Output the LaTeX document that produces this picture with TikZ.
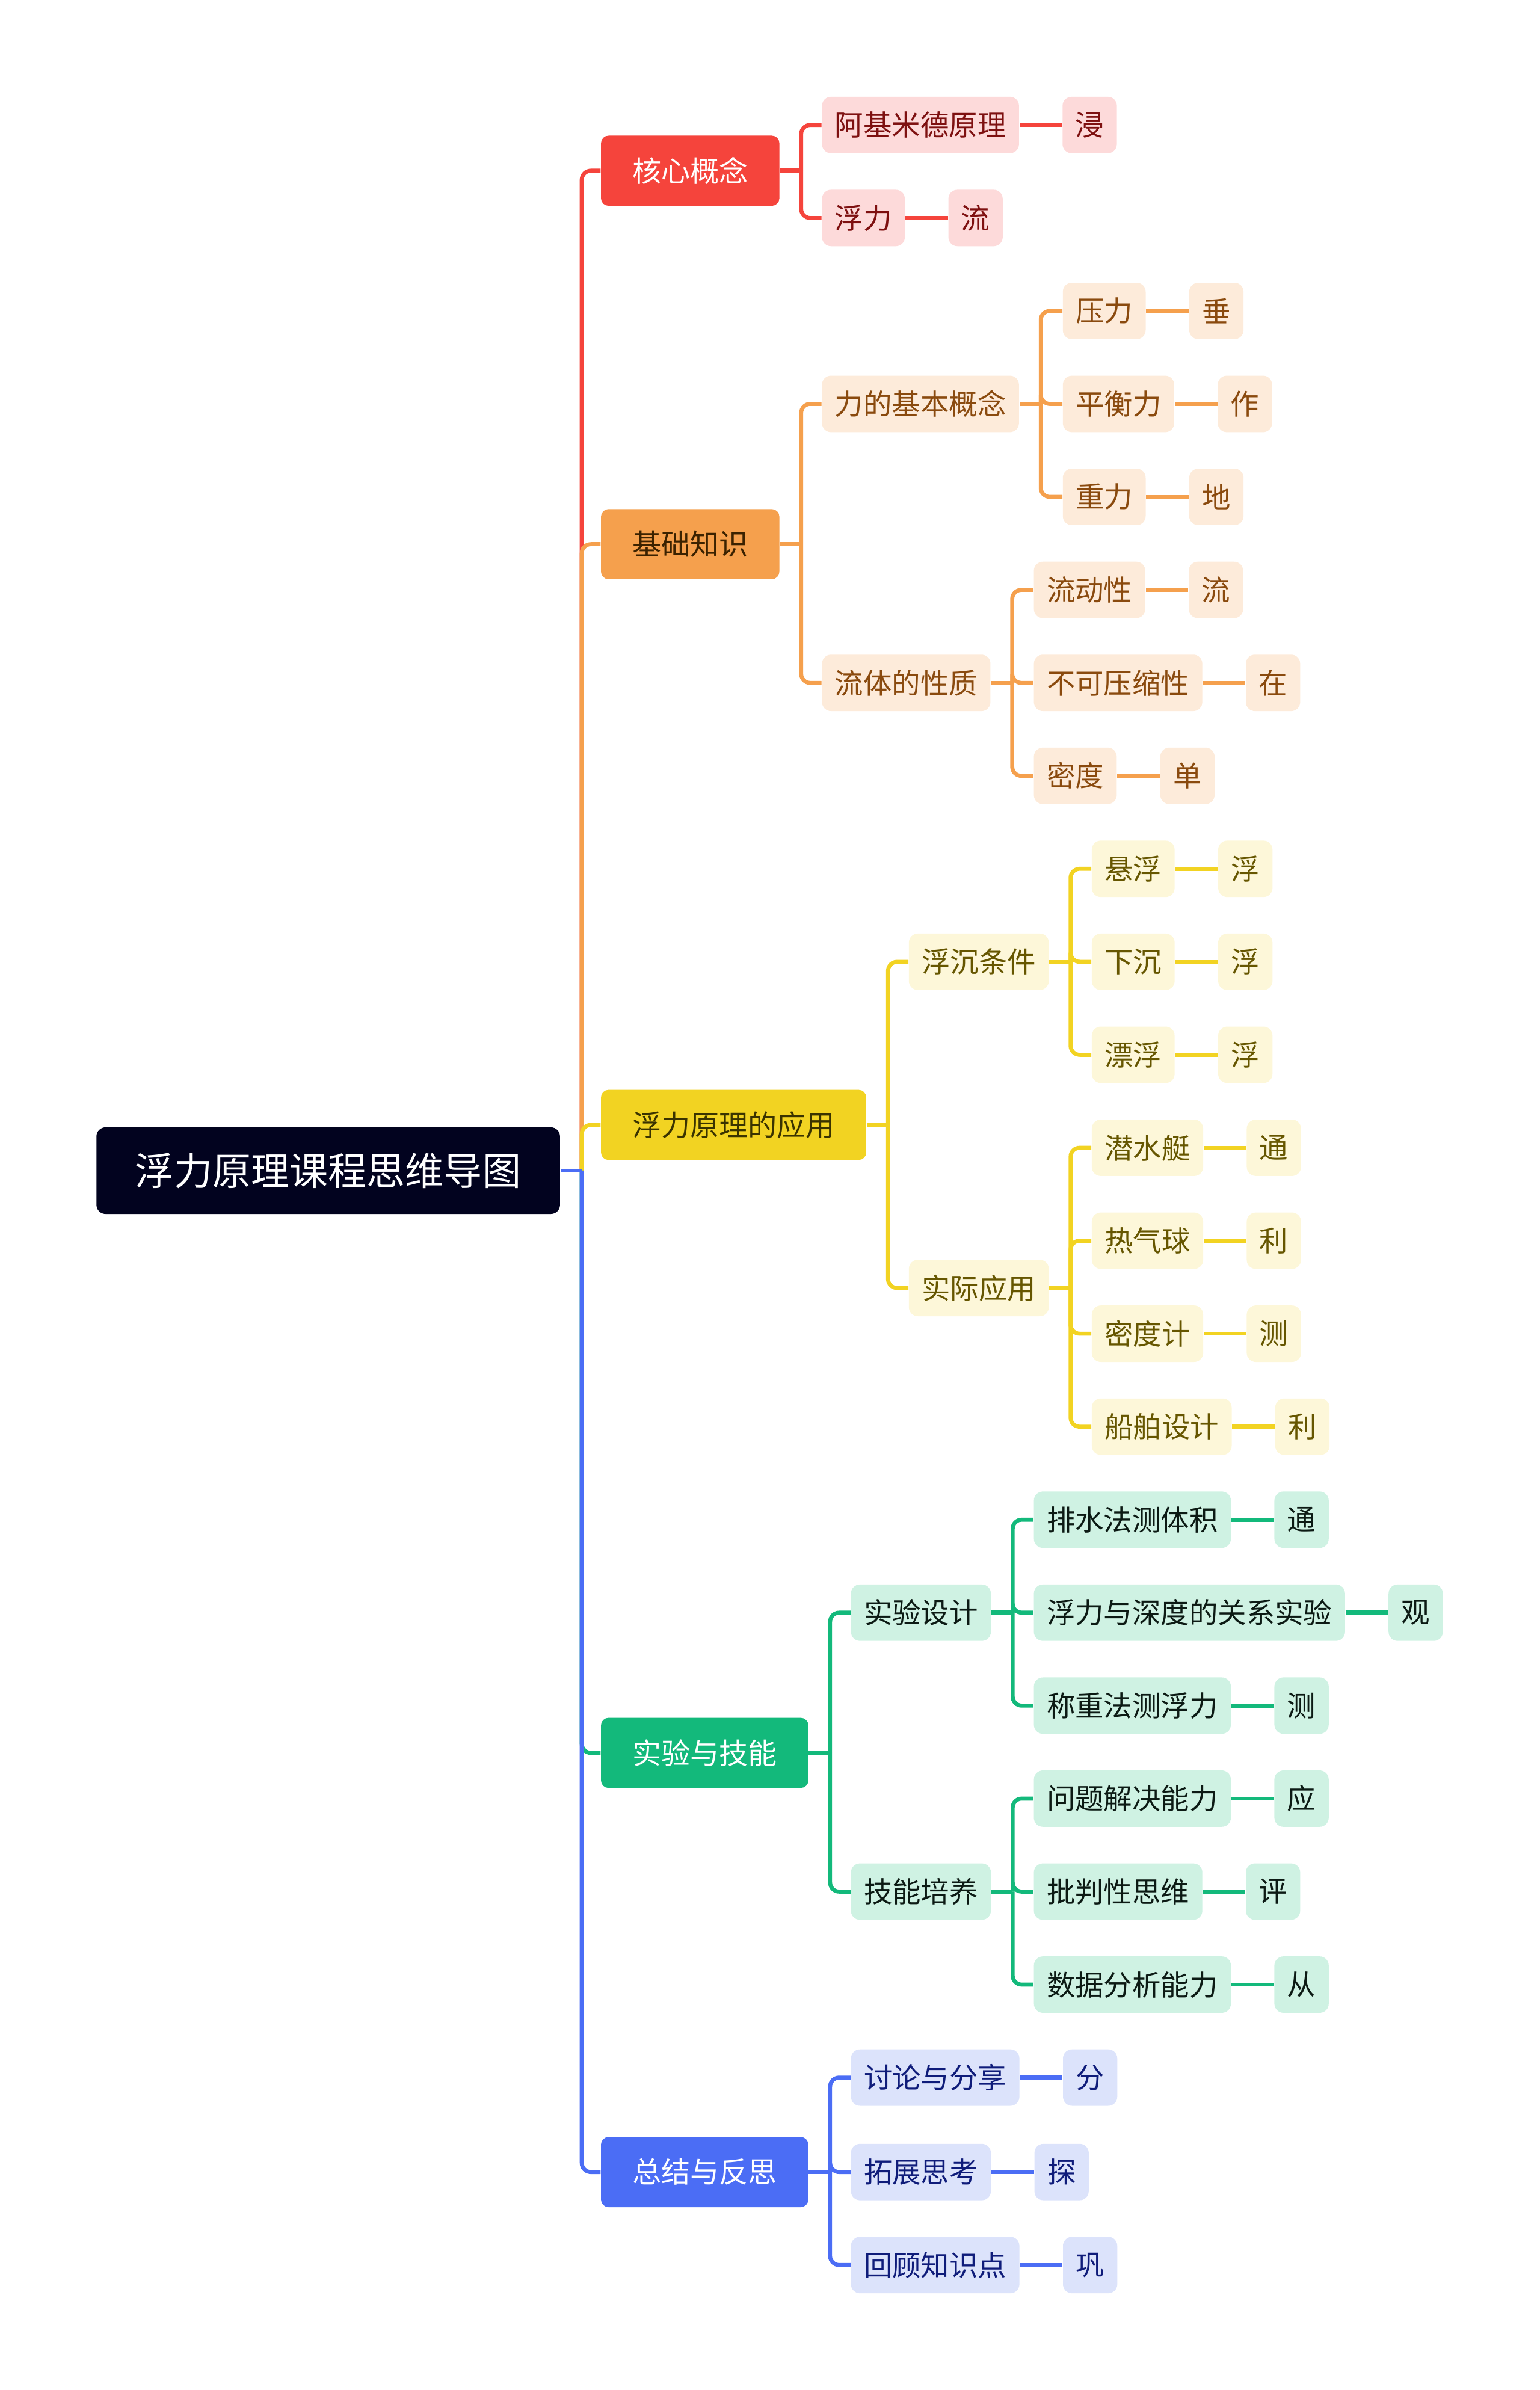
\documentclass[tikz,border=0pt]{standalone}
\usepackage{fontspec}
\setmainfont{Noto Sans CJK SC}
\usetikzlibrary{positioning, calc}

\definecolor{rootc}{HTML}{02031F}
\definecolor{redM}{HTML}{F5443C}
\definecolor{redL}{HTML}{FDDADA}
\definecolor{redT}{HTML}{7E1010}
\definecolor{oraM}{HTML}{F5A04D}
\definecolor{oraL}{HTML}{FDEBDA}
\definecolor{oraT}{HTML}{8A4A0E}
\definecolor{oraD}{HTML}{3B2200}
\definecolor{yelM}{HTML}{F2D322}
\definecolor{yelL}{HTML}{FDF7D9}
\definecolor{yelT}{HTML}{665600}
\definecolor{yelD}{HTML}{3A3300}
\definecolor{grnM}{HTML}{13B97B}
\definecolor{grnL}{HTML}{CFF2E3}
\definecolor{grnT}{HTML}{0C1A14}
\definecolor{bluM}{HTML}{4B6DF5}
\definecolor{bluL}{HTML}{DCE3FB}
\definecolor{bluT}{HTML}{0F1C7A}

\begin{document}
\begin{tikzpicture}[
    x=0.025347cm, y=-0.025347cm,
    node distance=20.2pt,
    root/.style ={fill=rootc, text=white, rounded corners=4.3pt, anchor=west,
                  font=\fontsize{18.25}{22}\selectfont, inner xsep=18.4pt,
                  inner ysep=0pt, minimum height=41pt},
    main/.style ={rounded corners=3.6pt, anchor=west,
                  font=\fontsize{13.7}{16}\selectfont, inner xsep=14.8pt,
                  inner ysep=0pt, minimum height=33.2pt},
    sub/.style  ={rounded corners=4.3pt, anchor=west,
                  font=\fontsize{13.5}{16}\selectfont, inner xsep=6.1pt,
                  inner ysep=0pt, minimum height=26.7pt},
    link/.style ={line width=1.9pt},
    fork/.style ={line width=1.9pt, rounded corners=4.3pt},
    redmain/.style={main, fill=redM, text=white},
    redsub/.style ={sub, fill=redL, text=redT},
    oramain/.style={main, fill=oraM, text=oraD},
    orasub/.style ={sub, fill=oraL, text=oraT},
    yelmain/.style={main, fill=yelM, text=yelD},
    yelsub/.style ={sub, fill=yelL, text=yelT},
    grnmain/.style={main, fill=grnM, text=white},
    grnsub/.style ={sub, fill=grnL, text=grnT},
    blumain/.style={main, fill=bluM, text=white},
    blusub/.style ={sub, fill=bluL, text=bluT},
]
\useasboundingbox (0,0) rectangle (1010,1568);

\node[root] (root) at (63,768) {浮力原理课程思维导图};

% first level
\node[redmain] (m1) at (394,112)  {核心概念};
\node[oramain] (m2) at (394,357)  {基础知识};
\node[yelmain] (m3) at (394,738)  {浮力原理的应用};
\node[grnmain] (m4) at (394,1150) {实验与技能};
\node[blumain] (m5) at (394,1425) {总结与反思};

% 核心概念
\node[redsub] (a1) at (539,82)  {阿基米德原理};
\node[redsub] (a2) at (539,143) {浮力};
\node[redsub, right=of a1] (a1x) {浸};
\node[redsub, right=of a2] (a2x) {流};

% 基础知识
\node[orasub] (b1) at (539,265) {力的基本概念};
\node[orasub] (b2) at (539,448) {流体的性质};
\node[orasub] (b11) at (697,204) {压力};
\node[orasub] (b12) at (697,265) {平衡力};
\node[orasub] (b13) at (697,326) {重力};
\node[orasub] (b21) at (678,387) {流动性};
\node[orasub] (b22) at (678,448) {不可压缩性};
\node[orasub] (b23) at (678,509) {密度};
\node[orasub, right=of b11] (b11x) {垂};
\node[orasub, right=of b12] (b12x) {作};
\node[orasub, right=of b13] (b13x) {地};
\node[orasub, right=of b21] (b21x) {流};
\node[orasub, right=of b22] (b22x) {在};
\node[orasub, right=of b23] (b23x) {单};

% 浮力原理的应用
\node[yelsub] (c1) at (596,631) {浮沉条件};
\node[yelsub] (c2) at (596,845) {实际应用};
\node[yelsub] (c11) at (716,570) {悬浮};
\node[yelsub] (c12) at (716,631) {下沉};
\node[yelsub] (c13) at (716,692) {漂浮};
\node[yelsub] (c21) at (716,753) {潜水艇};
\node[yelsub] (c22) at (716,814) {热气球};
\node[yelsub] (c23) at (716,875) {密度计};
\node[yelsub] (c24) at (716,936) {船舶设计};
\node[yelsub, right=of c11] (c11x) {浮};
\node[yelsub, right=of c12] (c12x) {浮};
\node[yelsub, right=of c13] (c13x) {浮};
\node[yelsub, right=of c21] (c21x) {通};
\node[yelsub, right=of c22] (c22x) {利};
\node[yelsub, right=of c23] (c23x) {测};
\node[yelsub, right=of c24] (c24x) {利};

% 实验与技能
\node[grnsub] (d1) at (558,1058) {实验设计};
\node[grnsub] (d2) at (558,1241) {技能培养};
\node[grnsub] (d11) at (678,997)  {排水法测体积};
\node[grnsub] (d12) at (678,1058) {浮力与深度的关系实验};
\node[grnsub] (d13) at (678,1119) {称重法测浮力};
\node[grnsub] (d21) at (678,1180) {问题解决能力};
\node[grnsub] (d22) at (678,1241) {批判性思维};
\node[grnsub] (d23) at (678,1302) {数据分析能力};
\node[grnsub, right=of d11] (d11x) {通};
\node[grnsub, right=of d12] (d12x) {观};
\node[grnsub, right=of d13] (d13x) {测};
\node[grnsub, right=of d21] (d21x) {应};
\node[grnsub, right=of d22] (d22x) {评};
\node[grnsub, right=of d23] (d23x) {从};

% 总结与反思
\node[blusub] (e1) at (558,1363) {讨论与分享};
\node[blusub] (e2) at (558,1425) {拓展思考};
\node[blusub] (e3) at (558,1486) {回顾知识点};
\node[blusub, right=of e1] (e1x) {分};
\node[blusub, right=of e2] (e2x) {探};
\node[blusub, right=of e3] (e3x) {巩};

% trunk from the root
\coordinate (t) at ($(root.east)+(14,0)$);
\draw[fork, redM] (t) |- (m1.west);
\draw[fork, oraM] (t) |- (m2.west);
\draw[fork, yelM] (t) |- (m3.west);
\draw[fork, grnM] (t) |- (m4.west);
\draw[fork, bluM] (t) |- (m5.west);
\draw[link, bluM] (root.east) -- (t);

% forks: parent/colour/children
\foreach \p/\c/\kids in {m1/redM/{a1,a2}, m2/oraM/{b1,b2}, b1/oraM/{b11,b12,b13},
        b2/oraM/{b21,b22,b23}, m3/yelM/{c1,c2}, c1/yelM/{c11,c12,c13},
        c2/yelM/{c21,c22,c23,c24}, m4/grnM/{d1,d2}, d1/grnM/{d11,d12,d13},
        d2/grnM/{d21,d22,d23}, m5/bluM/{e1,e2,e3}}{
  \draw[link, \c] (\p.east) -- ++(14,0) coordinate (\p f);
  \foreach \k in \kids
    \draw[fork, \c] (\p f) |- (\k.west);
}

% leaf links
\foreach \n/\c in {a1/redM, a2/redM, b11/oraM, b12/oraM, b13/oraM, b21/oraM,
        b22/oraM, b23/oraM, c11/yelM, c12/yelM, c13/yelM, c21/yelM, c22/yelM,
        c23/yelM, c24/yelM, d11/grnM, d12/grnM, d13/grnM, d21/grnM, d22/grnM,
        d23/grnM, e1/bluM, e2/bluM, e3/bluM}
  \draw[link, \c] (\n.east) -- (\n x.west);
\end{tikzpicture}
\end{document}
